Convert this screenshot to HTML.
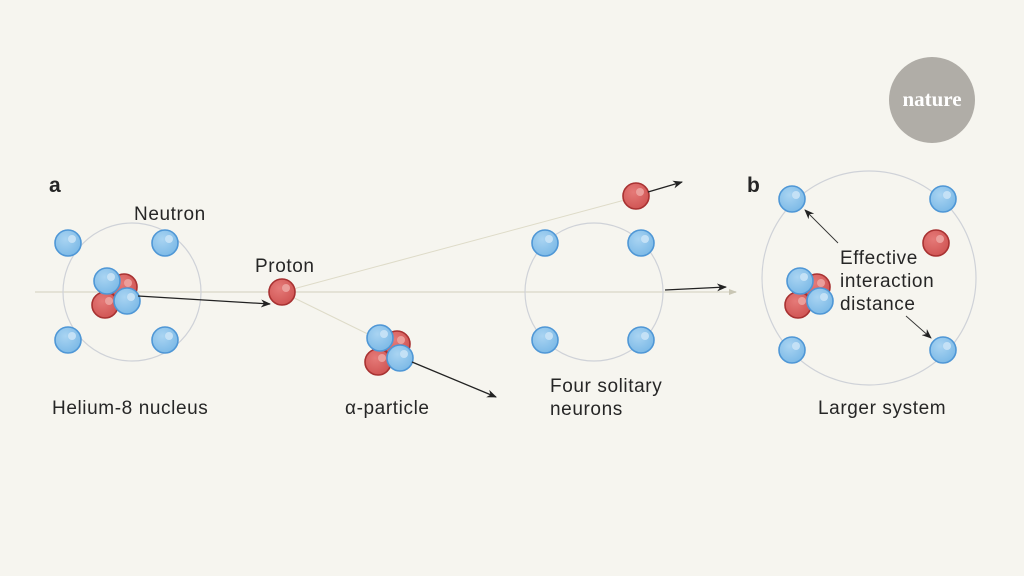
<!DOCTYPE html>
<html><head><meta charset="utf-8"><style>
html,body{margin:0;padding:0;background:#f6f5ef;}
svg{display:block}
text{font-family:"Liberation Sans",sans-serif;fill:#262626;font-size:19px;letter-spacing:0.6px}
</style></head><body>
<svg width="1024" height="576" viewBox="0 0 1024 576">
<defs>
<radialGradient id="gb" cx="0.4" cy="0.35" r="0.7"><stop offset="0" stop-color="#a9d4f2"/><stop offset="1" stop-color="#7ab8e6"/></radialGradient>
<radialGradient id="gr" cx="0.4" cy="0.35" r="0.7"><stop offset="0" stop-color="#e57a78"/><stop offset="1" stop-color="#cf5352"/></radialGradient>
<g id="n"><circle r="13" fill="url(#gb)" stroke="#4f97d6" stroke-width="1.6"/><circle cx="4" cy="-4" r="4" fill="#c4e1f6"/></g>
<g id="p"><circle r="13" fill="url(#gr)" stroke="#a83232" stroke-width="1.6"/><circle cx="4" cy="-4" r="4" fill="#eb9e9b"/></g>
<g id="a"><use href="#p" x="17" y="6"/><use href="#p" x="-2" y="24"/><use href="#n" x="0" y="0"/><use href="#n" x="20" y="20"/></g>
<marker id="ar" markerWidth="10" markerHeight="8" refX="9" refY="4" orient="auto" markerUnits="userSpaceOnUse"><path d="M0,0 L10,4 L0,8 L3,4Z" fill="#222"/></marker>
<marker id="ag" markerWidth="8" markerHeight="6" refX="7" refY="3" orient="auto" markerUnits="userSpaceOnUse"><path d="M0,0 L8,3 L0,6Z" fill="#c9c6b4"/></marker>
</defs>
<line x1="35" y1="292" x2="736" y2="292" stroke="#e4e2d6" stroke-width="2" marker-end="url(#ag)"/>
<line x1="282" y1="292" x2="636" y2="197" stroke="#dedbc8" stroke-width="1"/>
<line x1="282" y1="292" x2="380" y2="340" stroke="#dedbc8" stroke-width="1"/>
<circle cx="132" cy="292" r="69" fill="none" stroke="#cfd2d8" stroke-width="1.2"/>
<circle cx="594" cy="292" r="69" fill="none" stroke="#cfd2d8" stroke-width="1.2"/>
<circle cx="869" cy="278" r="107" fill="none" stroke="#cfd2d8" stroke-width="1.2"/>
<use href="#n" x="68" y="243"/><use href="#n" x="165" y="243"/><use href="#n" x="68" y="340"/><use href="#n" x="165" y="340"/>
<use href="#a" x="107" y="281"/>
<line x1="138" y1="296" x2="270" y2="304" stroke="#222" stroke-width="1.3" marker-end="url(#ar)"/>
<use href="#p" x="282" y="292"/>
<use href="#p" x="636" y="196"/>
<line x1="648" y1="192" x2="682" y2="182" stroke="#222" stroke-width="1.3" marker-end="url(#ar)"/>
<use href="#a" x="380" y="338"/>
<line x1="412" y1="362" x2="496" y2="397" stroke="#222" stroke-width="1.3" marker-end="url(#ar)"/>
<use href="#n" x="545" y="243"/><use href="#n" x="641" y="243"/><use href="#n" x="545" y="340"/><use href="#n" x="641" y="340"/>
<line x1="665" y1="290" x2="726" y2="287" stroke="#222" stroke-width="1.3" marker-end="url(#ar)"/>
<use href="#n" x="792" y="199"/><use href="#n" x="943" y="199"/><use href="#n" x="792" y="350"/><use href="#n" x="943" y="350"/>
<use href="#p" x="936" y="243"/>
<use href="#a" x="800" y="281"/>
<line x1="838" y1="243" x2="805" y2="210" stroke="#333" stroke-width="0.9" marker-end="url(#ar)"/>
<line x1="906" y1="316" x2="931" y2="338" stroke="#333" stroke-width="0.9" marker-end="url(#ar)"/>
<circle cx="932" cy="100" r="43" fill="#b0ada7"/>
<text x="932" y="106" text-anchor="middle" style="font-family:'Liberation Serif',serif;font-size:21px;font-weight:bold;fill:#fff;letter-spacing:0">nature</text>
<text x="49" y="192" style="font-weight:bold;font-size:21px">a</text>
<text x="747" y="192" style="font-weight:bold;font-size:21px">b</text>
<text x="134" y="220">Neutron</text>
<text x="255" y="272">Proton</text>
<text x="52" y="414">Helium-8 nucleus</text>
<text x="345" y="414">α-particle</text>
<text x="550" y="392">Four solitary</text>
<text x="550" y="415">neurons</text>
<text x="818" y="414">Larger system</text>
<text x="840" y="264">Effective</text>
<text x="840" y="287">interaction</text>
<text x="840" y="310">distance</text>
</svg>
</body></html>
